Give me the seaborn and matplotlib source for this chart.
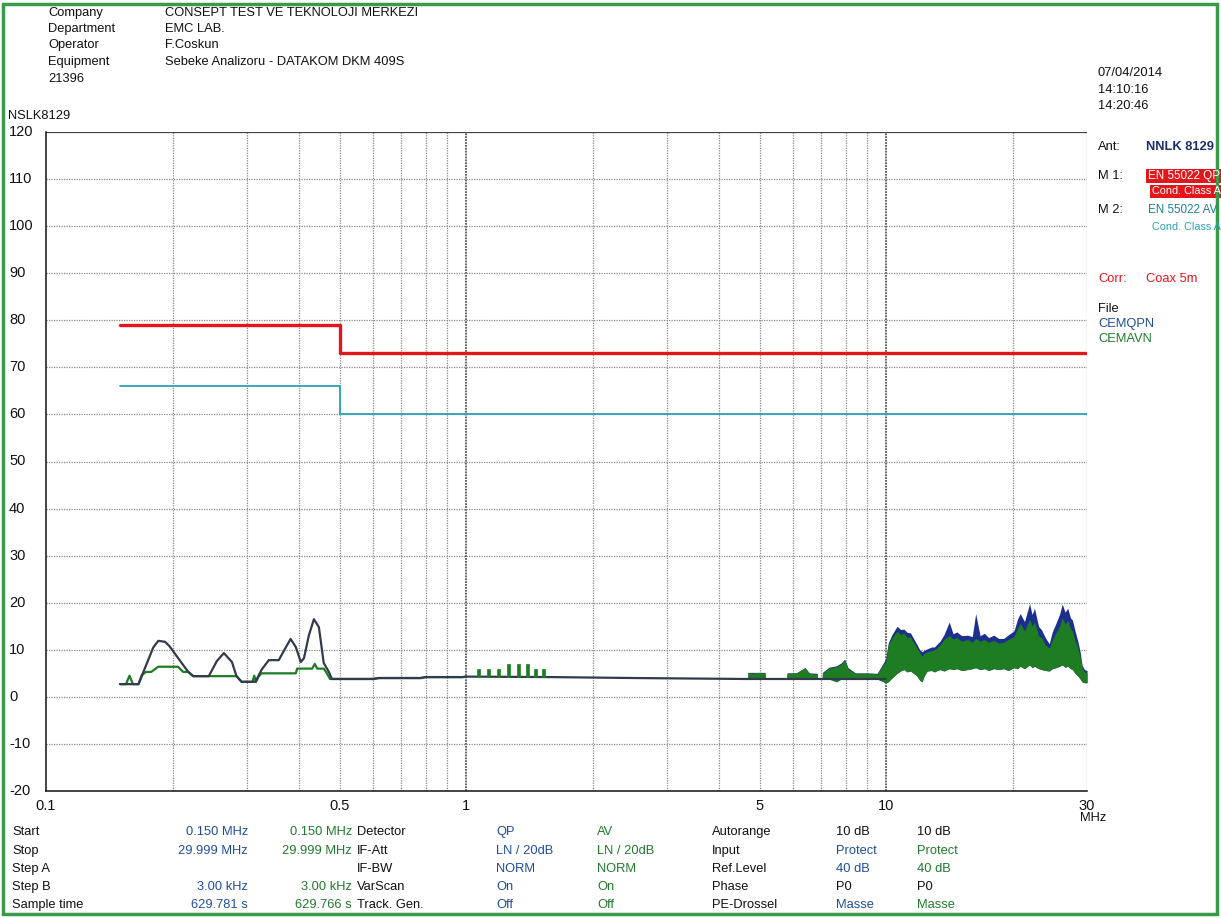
import numpy as np
import pandas as pd
import matplotlib
matplotlib.use("Agg")
import matplotlib.pyplot as plt
import matplotlib.transforms as mtransforms
from matplotlib.patches import Rectangle
import seaborn as sns

# ---------------- data ----------------
# Limit lines EN 55022 class A (conducted), frequency in MHz, level in dBuV
qp_limit_freq = [0.15, 0.5, 0.5, 30.0]
qp_limit_level = [79.0, 79.0, 73.0, 73.0]
av_limit_freq = [0.15, 0.5, 0.5, 30.0]
av_limit_level = [66.0, 66.0, 60.0, 60.0]

# Quasi-peak trace, low frequency part
qp_lf_freq = [0.150, 0.166, 0.175, 0.180, 0.185, 0.192, 0.197, 0.206, 0.218, 0.224,
              0.244, 0.255, 0.265, 0.277, 0.284, 0.292, 0.315, 0.326, 0.339, 0.358,
              0.372, 0.382, 0.393, 0.404, 0.411, 0.422, 0.434, 0.446, 0.452, 0.458,
              0.471, 0.479, 0.600, 0.620, 0.780, 0.800, 0.980, 1.000, 1.600, 2.500,
              4.600, 9.950]
qp_lf_level = [2.7, 2.7, 7.8, 10.5, 11.9, 11.7, 10.7, 8.3, 5.3, 4.4,
               4.4, 7.6, 9.3, 7.4, 4.4, 3.2, 3.2, 5.8, 7.8, 7.8,
               10.5, 12.3, 10.6, 7.4, 8.2, 13.0, 16.5, 14.8, 11.0, 7.2,
               5.3, 3.8, 3.8, 4.0, 4.0, 4.2, 4.2, 4.3, 4.2, 4.0,
               3.8, 3.8]

# Average trace, low frequency part
av_lf_freq = [0.150, 0.155, 0.158, 0.161, 0.166, 0.169, 0.173, 0.178, 0.185, 0.206,
              0.212, 0.218, 0.224, 0.284, 0.292, 0.310, 0.313, 0.316, 0.321, 0.326,
              0.393, 0.396, 0.430, 0.436, 0.442, 0.458, 0.466, 0.474, 0.600, 0.620,
              0.780, 0.800, 0.980, 1.000]
av_lf_level = [2.7, 2.7, 4.5, 2.7, 2.7, 4.6, 5.3, 5.3, 6.4, 6.4,
               5.3, 5.3, 4.4, 4.4, 3.2, 3.2, 4.5, 3.2, 4.4, 5.0,
               5.0, 6.0, 6.0, 7.0, 6.0, 6.0, 5.0, 3.8, 3.8, 4.0,
               4.0, 4.2, 4.2, 4.3]

# Narrow average peaks between 1 and 1.6 MHz
spike_freq = [1.068, 1.128, 1.192, 1.260, 1.330, 1.398, 1.460, 1.530]
spike_top = [6.0, 6.0, 6.0, 7.0, 7.0, 6.9, 5.9, 5.9]
spike_base = [4.3, 4.3, 4.3, 4.3, 4.3, 4.3, 4.3, 4.3]

# High frequency part: envelope of the dense scan
hf_freq = [4.68, 4.80, 4.95, 5.14, 5.15, 5.79, 5.80, 6.10, 6.40, 6.55,
           6.84, 6.85, 7.03, 7.04, 7.30, 7.60, 7.80, 7.95, 8.10, 8.43,
           9.00, 9.50, 9.95, 10.1, 10.3, 10.6, 10.8, 11.0, 11.2, 11.4,
           11.6, 11.8, 12.0, 12.15, 12.3, 12.5, 12.8, 13.0, 13.2, 13.4,
           13.7, 14.1, 14.4, 14.7, 15.1, 15.6, 16.0, 16.3, 16.7, 17.1,
           17.5, 18.0, 18.5, 19.0, 19.5, 20.1, 20.5, 20.8, 21.3, 21.9,
           22.2, 22.5, 23.0, 23.4, 23.9, 24.4, 24.8, 25.3, 25.8, 26.2,
           26.6, 27.0, 27.4, 27.7, 28.1, 28.5, 28.9, 29.2, 29.6, 30.0]
hf_low = [3.8, 3.8, 3.8, 3.8, 3.8, 3.8, 3.8, 3.8, 3.8, 3.8,
          3.8, 3.8, 3.8, 3.8, 3.8, 3.2, 3.8, 3.8, 3.8, 3.8,
          3.8, 3.8, 3.0, 3.2, 4.0, 5.0, 5.5, 5.8, 5.3, 5.5,
          5.0, 4.5, 3.5, 3.2, 4.5, 5.5, 5.6, 5.3, 5.6, 5.8,
          5.5, 6.0, 5.8, 6.0, 5.6, 5.8, 6.0, 6.2, 5.8, 6.0,
          5.6, 6.0, 5.8, 6.0, 5.6, 6.2, 6.0, 6.5, 6.0, 6.8,
          6.2, 6.5, 6.0, 5.8, 5.6, 5.5, 6.0, 6.2, 6.5, 6.8,
          6.3, 6.5, 6.0, 5.8, 5.0, 4.5, 3.8, 3.2, 3.0, 3.0]
hf_av_high = [5.2, 5.0, 5.2, 5.1, 3.8, 3.8, 5.0, 5.1, 6.2, 5.0,
              4.8, 3.8, 3.8, 5.0, 6.1, 6.4, 7.0, 7.8, 6.0, 5.0,
              5.0, 4.9, 7.5, 11.0, 12.5, 14.0, 13.2, 13.6, 12.6, 12.8,
              11.5, 10.5, 9.4, 8.6, 9.3, 9.6, 9.8, 10.0, 10.4, 11.0,
              12.2, 13.0, 12.3, 12.6, 11.8, 12.2, 11.6, 12.4, 11.8, 12.2,
              11.6, 12.0, 11.4, 11.6, 12.2, 12.8, 14.5, 15.6, 14.0, 16.5,
              15.0, 16.0, 13.0, 12.5, 11.0, 10.4, 12.0, 13.6, 15.0, 16.8,
              15.5, 16.2, 14.5, 14.0, 12.0, 10.5, 8.5, 6.2, 5.3, 5.0]
hf_qp_high = [5.2, 5.2, 5.2, 5.2, 3.8, 3.8, 5.1, 5.1, 6.2, 5.1,
              5.0, 3.8, 3.8, 5.2, 6.3, 6.6, 7.2, 8.0, 6.2, 5.1,
              5.1, 5.0, 8.0, 11.5, 13.2, 15.0, 14.3, 14.4, 13.7, 13.6,
              12.4, 11.2, 10.0, 9.6, 9.9, 10.2, 10.6, 10.6, 11.2, 11.8,
              13.2, 15.9, 13.4, 13.8, 13.0, 13.1, 12.8, 17.7, 13.0, 13.5,
              12.6, 13.1, 12.4, 12.4, 13.2, 14.0, 16.5, 17.7, 16.0, 19.8,
              17.5, 18.8, 15.0, 14.2, 12.5, 11.3, 13.8, 15.6, 17.5, 19.7,
              18.0, 18.8, 16.8, 16.3, 14.0, 12.0, 9.5, 6.7, 5.8, 5.6]

# Axis layout values
grid_freq = [0.2, 0.3, 0.4, 0.5, 0.6, 0.7, 0.8, 0.9, 1, 2, 3, 4, 5, 6, 7, 8, 9, 10, 20, 30]
x_tick_freq = [0.1, 0.2, 0.3, 0.4, 0.5, 0.6, 0.7, 0.8, 0.9, 1, 2, 3, 4, 5, 6, 7, 8, 9, 10, 20, 30]
x_tick_text = ["0.1", "", "", "", "0.5", "", "", "", "", "1", "", "", "", "5", "", "", "", "", "10", "", "30"]
y_ticks = [120, 110, 100, 90, 80, 70, 60, 50, 40, 30, 20, 10, 0, -10, -20]

# ---------------- colours ----------------
RED = "#e3161b"
CYAN = "#2aa3b6"
QP_LINE = "#323b4c"
QP_BAND = "#1d2f8c"
GREEN = "#1e7d22"
NAVY = "#1b2f6b"
BLUE_TXT = "#1f4e9c"
GREEN_TXT = "#217a2c"
FRAME = "#3b9a47"
INK = "#111111"
FS = 9.3

sns.set_theme(style="white")
plt.rcParams["font.family"] = ["Liberation Sans", "DejaVu Sans"]

W, H = 1221, 918
fig = plt.figure(figsize=(W / 100, H / 100), dpi=100)
fig.patch.set_facecolor("white")


def fx(px):
    return px / W


def fy(py):
    return 1 - py / H


ax = fig.add_axes([fx(46), fy(791), fx(1087) - fx(46), fy(132) - fy(791)])
ax.set_facecolor("white")
ax.set_xscale("log")
ax.set_xlim(0.1, 30)
ax.set_ylim(-20, 120)

# grid
for f in grid_freq:
    if f in (1, 10):
        ax.axvline(f, color="#555555", lw=1.3, ls=(0, (1, 0.6)), zorder=1)
    else:
        ax.axvline(f, color="#8a8a8a", lw=0.9, ls=(0, (1, 1)), zorder=1)
for v in y_ticks[1:-1]:
    ax.axhline(v, color="#8a8a8a", lw=0.9, ls=(0, (1, 1)), zorder=1)
ax.axhline(120, color="#444444", lw=0.9, zorder=1)

# limit lines
lim_qp = pd.DataFrame({"f": qp_limit_freq, "level": qp_limit_level})
lim_av = pd.DataFrame({"f": av_limit_freq, "level": av_limit_level})
sns.lineplot(data=lim_qp, x="f", y="level", sort=False, estimator=None,
             color=RED, lw=2.4, ax=ax, zorder=3)
sns.lineplot(data=lim_av, x="f", y="level", sort=False, estimator=None,
             color=CYAN, lw=1.3, ax=ax, zorder=3)

# high frequency dense scan envelopes
ax.fill_between(hf_freq, hf_low, hf_qp_high, color=QP_BAND, lw=0, zorder=4)
ax.fill_between(hf_freq, hf_low, hf_av_high, color=GREEN, lw=0, zorder=5)

# low frequency traces
av_df = pd.DataFrame({"f": av_lf_freq, "level": av_lf_level})
qp_df = pd.DataFrame({"f": qp_lf_freq, "level": qp_lf_level})
sns.lineplot(data=av_df, x="f", y="level", sort=False, estimator=None,
             color=GREEN, lw=1.6, ax=ax, zorder=5)
sns.lineplot(data=qp_df, x="f", y="level", sort=False, estimator=None,
             color=QP_LINE, lw=1.6, ax=ax, zorder=6)
ax.bar(spike_freq, np.subtract(spike_top, spike_base), bottom=spike_base,
       width=np.array(spike_freq) * 0.018, color=GREEN, edgecolor=GREEN,
       linewidth=0.5, zorder=7)

# axes decoration
ax.set_xlabel("")
ax.set_ylabel("")
for side in ("top", "right"):
    ax.spines[side].set_visible(False)
for side in ("left", "bottom"):
    ax.spines[side].set_color(INK)
    ax.spines[side].set_linewidth(1.1)
ax.set_xticks(x_tick_freq)
ax.set_xticklabels(x_tick_text)
ax.xaxis.set_minor_locator(matplotlib.ticker.NullLocator())
ax.tick_params(axis="x", which="major", direction="out", length=7, width=1.0,
               color="#222222", pad=-1, labelsize=10.5, labelcolor=INK)
ax.set_yticks(y_ticks)
ax.set_yticklabels([])
ax.tick_params(axis="y", direction="out", length=7, width=1.0, color="#222222")
ytext_tf = mtransforms.blended_transform_factory(fig.transFigure, ax.transData)
for v in y_ticks:
    ax.text(fx(9), v, str(v), transform=ytext_tf, ha="left", va="center",
            fontsize=10.5, color=INK)
fig.text(fx(1080), fy(818), "MHz", ha="left", va="center", fontsize=FS, color=INK)
fig.text(fx(8), fy(116), "NSLK8129", ha="left", va="center", fontsize=FS, color=INK)

# header block
hdr_labels = ["Company", "Department", "Operator", "Equipment", "21396"]
hdr_values = ["CONSEPT TEST VE TEKNOLOJI MERKEZI", "EMC LAB.", "F.Coskun",
              "Sebeke Analizoru - DATAKOM DKM 409S", ""]
hdr_y = [13, 29, 45, 62, 79]
for lab, val, y in zip(hdr_labels, hdr_values, hdr_y):
    fig.text(fx(48), fy(y), lab, ha="left", va="center", fontsize=FS, color=INK)
    fig.text(fx(165), fy(y), val, ha="left", va="center", fontsize=FS, color=INK)

# right side panel
for txt, y in zip(["07/04/2014", "14:10:16", "14:20:46"], [73, 90, 106]):
    fig.text(fx(1098), fy(y), txt, ha="left", va="center", fontsize=FS, color=INK)
fig.text(fx(1098), fy(147), "Ant:", ha="left", va="center", fontsize=FS, color=INK)
fig.text(fx(1146), fy(147), "NNLK 8129", ha="left", va="center", fontsize=FS,
         color=NAVY, fontweight="bold")
fig.text(fx(1098), fy(176), "M 1:", ha="left", va="center", fontsize=FS, color=INK)
# red marker boxes for the quasi-peak limit
fig.add_artist(Rectangle((fx(1146), fy(183)), fx(1221) - fx(1146), fy(169) - fy(183),
                         transform=fig.transFigure, fc=RED, ec="none"))
fig.add_artist(Rectangle((fx(1150), fy(198)), fx(1221) - fx(1150), fy(185) - fy(198),
                         transform=fig.transFigure, fc=RED, ec="none"))
fig.text(fx(1148), fy(176), "EN 55022 QP", ha="left", va="center", fontsize=8.4, color="white")
fig.text(fx(1152), fy(191.5), "Cond. Class A", ha="left", va="center", fontsize=7.8, color="white")
fig.text(fx(1098), fy(210), "M 2:", ha="left", va="center", fontsize=FS, color=INK)
fig.text(fx(1148), fy(210), "EN 55022 AV", ha="left", va="center", fontsize=8.4, color="#1f7f95")
fig.text(fx(1152), fy(227), "Cond. Class A", ha="left", va="center", fontsize=7.8, color=CYAN)
fig.text(fx(1098), fy(279), "Corr:", ha="left", va="center", fontsize=FS, color=RED)
fig.text(fx(1146), fy(279), "Coax 5m", ha="left", va="center", fontsize=FS, color=RED)
fig.text(fx(1098), fy(309), "File", ha="left", va="center", fontsize=FS, color=INK)
fig.text(fx(1098), fy(324), "CEMQPN", ha="left", va="center", fontsize=FS, color=BLUE_TXT)
fig.text(fx(1098), fy(339), "CEMAVN", ha="left", va="center", fontsize=FS, color=GREEN_TXT)

# bottom settings table
row_y = [832, 851, 869, 887, 905]
col_a = ["Start", "Stop", "Step A", "Step B", "Sample time"]
col_b = ["0.150 MHz", "29.999 MHz", "", "3.00 kHz", "629.781 s"]
col_c = ["0.150 MHz", "29.999 MHz", "", "3.00 kHz", "629.766 s"]
col_d = ["Detector", "IF-Att", "IF-BW", "VarScan", "Track. Gen."]
col_e = ["QP", "LN / 20dB", "NORM", "On", "Off"]
col_f = ["AV", "LN / 20dB", "NORM", "On", "Off"]
col_g = ["Autorange", "Input", "Ref.Level", "Phase", "PE-Drossel"]
col_h = ["10 dB", "Protect", "40 dB", "P0", "Masse"]
col_i = ["10 dB", "Protect", "40 dB", "P0", "Masse"]
for i, y in enumerate(row_y):
    fig.text(fx(12), fy(y), col_a[i], ha="left", va="center", fontsize=FS, color=INK)
    fig.text(fx(248), fy(y), col_b[i], ha="right", va="center", fontsize=FS, color=BLUE_TXT)
    fig.text(fx(352), fy(y), col_c[i], ha="right", va="center", fontsize=FS, color=GREEN_TXT)
    fig.text(fx(357), fy(y), col_d[i], ha="left", va="center", fontsize=FS, color=INK)
    fig.text(fx(496), fy(y), col_e[i], ha="left", va="center", fontsize=FS, color=BLUE_TXT)
    fig.text(fx(597), fy(y), col_f[i], ha="left", va="center", fontsize=FS, color=GREEN_TXT)
    fig.text(fx(712), fy(y), col_g[i], ha="left", va="center", fontsize=FS, color=INK)
    dark = col_h[i] in ("10 dB", "P0")
    fig.text(fx(836), fy(y), col_h[i], ha="left", va="center", fontsize=FS,
             color=INK if dark else BLUE_TXT)
    fig.text(fx(917), fy(y), col_i[i], ha="left", va="center", fontsize=FS,
             color=INK if dark else GREEN_TXT)

# page frame
fig.add_artist(Rectangle((fx(3), fy(914)), fx(1217) - fx(3), fy(4) - fy(914),
                         transform=fig.transFigure, fill=False, ec=FRAME, lw=2.5))

fig.savefig("out.png", dpi=100, facecolor="white")
